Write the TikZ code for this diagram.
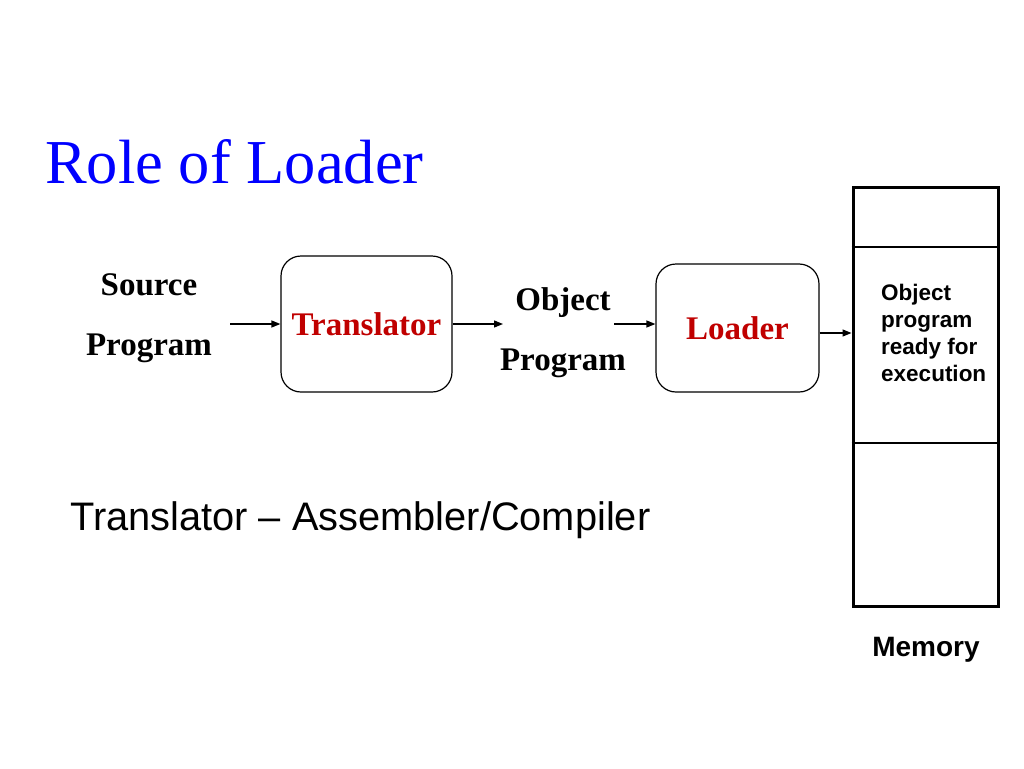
\documentclass[tikz,border=0pt]{standalone}
\usepackage{fontspec}
\setmainfont{Liberation Serif}
\setsansfont{Liberation Sans}
\usetikzlibrary{arrows.meta}
\definecolor{titleblue}{RGB}{0,0,255}
\definecolor{boxred}{RGB}{192,0,0}
\tikzset{
	procbox/.style={draw, line width=1.2pt, rounded corners=20pt, inner sep=0pt, text=boxred, font=\fontsize{33}{38}\selectfont\bfseries},
	arr/.style={line width=1.3pt, -{Triangle[length=9pt,width=7pt]}},
	lbl/.style={font=\fontsize{33}{38}\selectfont\bfseries, inner sep=0pt, anchor=base},
	memline/.style={line width=1.8pt},
}

\begin{document}
\begin{tikzpicture}[x=1pt,y=-1pt]
	%%%%% START %%%%%
	
	\useasboundingbox[fill=white] (0,0) rectangle (1024,768);
	
	\node[anchor=base west, inner sep=0pt, text=titleblue, font=\fontsize{62.5}{70}\selectfont] (title) at (45,183) {Role of Loader};
	
	\node[lbl] (srctop) at (149,295) {Source};
	\node[lbl] (srcbot) at (149,355) {Program};
	
	\node[procbox, minimum width=171pt, minimum height=136pt] (trans) at (366.5,324) {Translator};
	
	\node[lbl] (objtop) at (563,310) {Object};
	\node[lbl] (objbot) at (563,370) {Program};
	
	\node[procbox, minimum width=163pt, minimum height=128pt] (loader) at (737.5,328) {Loader};
	
	% memory
	\node[draw, line width=3pt, minimum width=145pt, minimum height=419pt, inner sep=0pt] (mem) at (925.5,396.5) {};
	\draw[memline] (mem.west |- 0,247) -- (mem.east |- 0,247);
	\draw[memline] (mem.west |- 0,443) -- (mem.east |- 0,443);
	\node[anchor=north west, inner sep=0pt, align=left, font=\sffamily\bfseries\fontsize{22.5}{27}\selectfont] (memtxt) at (881,284) {Object\\program\\ready for\\execution};
	\node[anchor=base, inner sep=0pt, font=\sffamily\bfseries\fontsize{28}{32}\selectfont] (memlbl) at (926,656) {Memory};
	
	% arrows
	\coordinate (srcout) at (230,324);
	\coordinate (objin) at (503,324);
	\coordinate (objout) at (614,324);
	\coordinate (ldout) at (819,333);
	\draw[arr] (srcout) -- (trans.west);
	\draw[arr] (trans.east) -- (objin);
	\draw[arr] (objout) -- (objout -| loader.west);
	\draw[arr] (ldout -| loader.east) -- (ldout -| mem.west);
	
	\node[anchor=base west, inner sep=0pt, font=\sffamily\fontsize{39.8}{46}\selectfont] (note) at (70,530) {Translator -- Assembler/Compiler};
	
	%%%%% END %%%%%
\end{tikzpicture}
\end{document}
